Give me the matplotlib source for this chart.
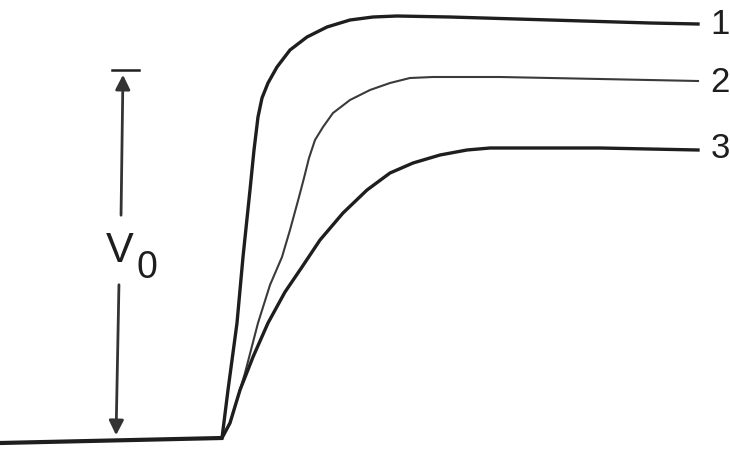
import matplotlib
matplotlib.use('Agg')
import matplotlib.pyplot as plt

plt.rcParams['font.family'] = ['Liberation Sans', 'DejaVu Sans']

# baseline before the step (time, level) in drawing units, y grows downward
base_t = [0, 222]
base_v = [443, 438]

# response curves 1, 2, 3 after the step
c1_t = [222, 228, 237, 243, 250, 254, 258, 262, 268, 277, 290, 307, 327, 350, 373, 397, 450, 550, 650, 698]
c1_v = [438, 390, 323, 257, 190, 150, 117, 98, 83, 67, 50, 37, 27, 20, 17, 16, 17, 20, 23, 24]

c2_t = [222, 230, 245, 258, 270, 282, 290, 299, 304, 309, 315, 323, 333, 350, 370, 390, 410, 433, 500, 600, 698]
c2_v = [438, 423, 373, 323, 285, 257, 230, 197, 178, 158, 140, 127, 113, 100, 90, 83, 78, 77, 77, 79, 81]

c3_t = [222, 230, 240, 253, 268, 285, 302, 320, 343, 367, 390, 413, 440, 467, 490, 600, 698]
c3_v = [438, 423, 390, 357, 323, 292, 267, 240, 213, 190, 173, 163, 155, 150, 148, 148, 150]

curve_labels = ['1', '2', '3']
label_v = [25, 82, 149]

fig = plt.figure(figsize=(7.3, 4.5), dpi=100)
ax = fig.add_axes([0, 0, 1, 1])
ax.set_xlim(0, 730)
ax.set_ylim(450, 0)
ax.axis('off')

ink = '#1e1e1e'
ax.plot(base_t, base_v, color=ink, lw=3.0, solid_capstyle='butt')
ax.plot(c1_t, c1_v, color=ink, lw=2.4, solid_joinstyle='round')
ax.plot(c2_t, c2_v, color='#3a3a3a', lw=1.5, solid_joinstyle='round')
ax.plot(c3_t, c3_v, color=ink, lw=2.4, solid_joinstyle='round')

for lab, v in zip(curve_labels, label_v):
    ax.text(720, v, lab, fontsize=25, ha='center', va='center', color=ink)

# V0 amplitude marker
ax.plot([112, 139], [70, 70], color=ink, lw=1.8)
arrow = dict(arrowstyle='-|>', color='#333333', lw=2.0, mutation_scale=22)
ax.annotate('', xy=(123, 72), xytext=(121, 218), arrowprops=arrow)
ax.annotate('', xy=(116, 438), xytext=(119, 282), arrowprops=arrow)
ax.text(120, 262, 'V', fontsize=30, ha='center', va='baseline', color=ink)
ax.text(147, 278, '0', fontsize=27, ha='center', va='baseline', color=ink)

fig.savefig('out.png', dpi=100, facecolor='white')
